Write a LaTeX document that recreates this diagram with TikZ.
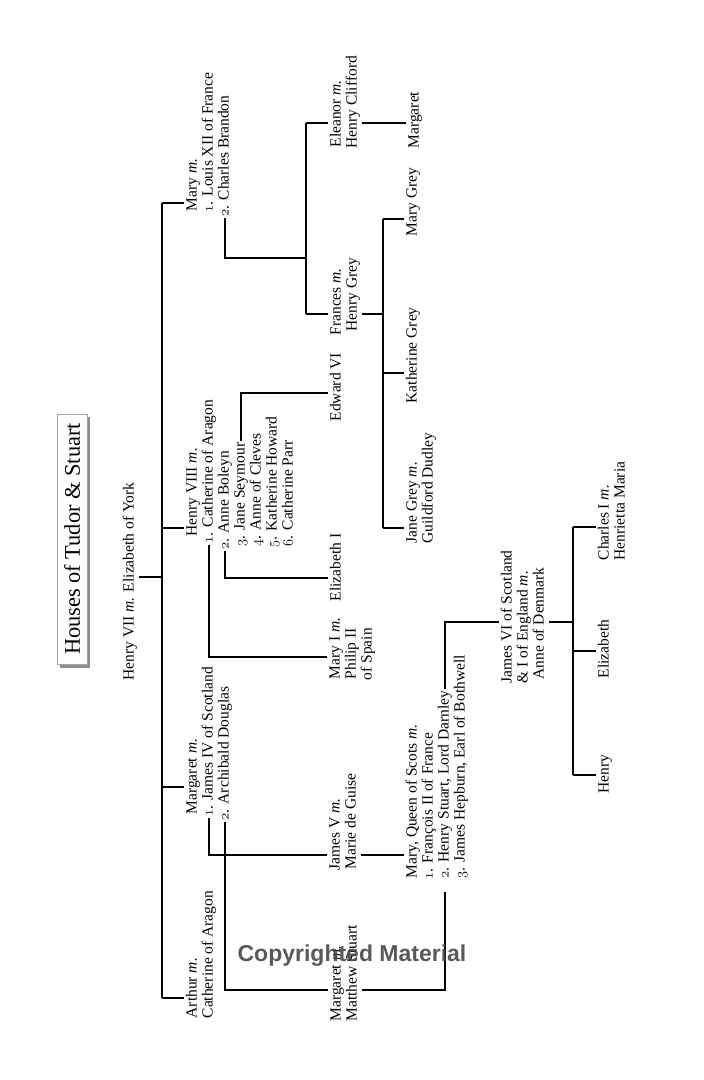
\documentclass[tikz,border=0pt]{standalone}
\usepackage{fontspec}
\usepackage{tikz}
\setmainfont{Liberation Serif}
\newfontfamily\markfont{Liberation Sans}
\newcommand\osnum[1]{{\usefont{OML}{cmm}{m}{it}#1}}
\tikzset{
        person/.style = {rotate = 90, anchor = west, inner sep = 1.5pt, text height = 10.5pt, text depth = 3.5pt, font = \fontsize{15.5}{16}\selectfont},
        branch/.style = {line width = 1.3pt},
}

\begin{document}
\begin{tikzpicture}[x = 1pt, y = -1pt]
        \useasboundingbox (0, 0) rectangle (704, 1080);
        \fill[white] (0, 0) rectangle (704, 1080);

        \fill[black!45] (60, 417) rectangle (90, 668);
        \node[rotate = 90, draw = black!35, fill = white, minimum width = 250pt, minimum height = 30pt,
            font = \fontsize{22.4}{24}\selectfont] (title) at (72, 539) {Houses of Tudor \& Stuart};

        \node[person] (root) at (130, 682) {Henry VII \textit{m.} Elizabeth of York};

        \node[person] (mary) at (193, 213) {Mary \textit{m.}};
        \node[person] (mary1) at (209, 214) {\osnum{1}. Louis XII of France};
        \node[person] (mary2) at (225, 218) {\osnum{2}. Charles Brandon};

        \node[person] (henry) at (193, 538) {Henry VIII \textit{m.}};
        \node[person] (henry1) at (209, 545) {\osnum{1}. Catherine of Aragon};
        \node[person] (henry2) at (225, 551) {\osnum{2}. Anne Boleyn};
        \node[person] (henry3) at (241, 548) {\osnum{3}. Jane Seymour};
        \node[person] (henry4) at (257, 548) {\osnum{4}. Anne of Cleves};
        \node[person] (henry5) at (273, 549) {\osnum{5}. Katherine Howard};
        \node[person] (henry6) at (289, 548) {\osnum{6}. Catherine Parr};

        \node[person] (margaret) at (193, 816) {Margaret \textit{m.}};
        \node[person] (margaret1) at (209, 818) {\osnum{1}. James IV of Scotland};
        \node[person] (margaret2) at (225, 822) {\osnum{2}. Archibald Douglas};

        \node[person] (arthur) at (193, 1020) {Arthur \textit{m.}};
        \node[person] (arthur1) at (209, 1020) {Catherine of Aragon};

        \node[person] (eleanor) at (337, 149) {Eleanor \textit{m.}};
        \node[person] (eleanor1) at (353, 150) {Henry Clifford};
        \node[person] (frances) at (337, 337) {Frances \textit{m.}};
        \node[person] (frances1) at (353, 333) {Henry Grey};
        \node[person] (edward) at (337, 423) {Edward VI};
        \node[person] (elizI) at (337, 603) {Elizabeth I};
        \node[person] (maryI) at (336, 681) {Mary I \textit{m.}};
        \node[person] (maryI1) at (352, 681) {Philip II};
        \node[person] (maryI2) at (368, 682) {of Spain};
        \node[person] (jamesV) at (336, 872) {James V \textit{m.}};
        \node[person] (jamesV1) at (352, 871) {Marie de Guise};
        \node[person] (margD) at (337, 1023) {Margaret \textit{m.}};
        \node[person] (margD1) at (353, 1023) {Matthew Stuart};

        \node[person] (margC) at (415, 150) {Margaret};
        \node[person] (maryG) at (413, 238) {Mary Grey};
        \node[person] (katG) at (413, 405) {Katherine Grey};
        \node[person] (janeG) at (413, 545) {Jane Grey \textit{m.}};
        \node[person] (janeG1) at (429, 545) {Guildford Dudley};
        \node[person] (maryQ) at (413, 880) {Mary, Queen of Scots \textit{m.}};
        \node[person] (maryQ1) at (429, 881) {\osnum{1}. François II of France};
        \node[person] (maryQ2) at (445, 880) {\osnum{2}. Henry Stuart, Lord Darnley};
        \node[person] (maryQ3) at (461, 880) {\osnum{3}. James Hepburn, Earl of Bothwell};

        \node[person] (jamesVI) at (508, 685) {James VI of Scotland};
        \node[person] (jamesVI1) at (524, 685) {\& I of England \textit{m.}};
        \node[person] (jamesVI2) at (540, 681) {Anne of Denmark};

        \node[person] (charles) at (605, 562) {Charles I \textit{m.}};
        \node[person] (charles1) at (621, 562) {Henrietta Maria};
        \node[person] (elizS) at (605, 680) {Elizabeth};
        \node[person] (henryS) at (605, 795) {Henry};

        \coordinate (b0) at (162, 577);
        \coordinate (bMary) at (162, 203);
        \coordinate (bHenry) at (162, 528);
        \coordinate (bMarg) at (162, 787);
        \coordinate (bArthur) at (162, 998);
        \coordinate (cBr) at (306, 258);
        \coordinate (cEl) at (306, 123);
        \coordinate (cFr) at (306, 314);
        \coordinate (dFr) at (383, 314);
        \coordinate (dMG) at (383, 219);
        \coordinate (dKG) at (383, 373);
        \coordinate (dJG) at (383, 528);
        \coordinate (kMaryI) at (210, 657);
        \coordinate (kEliz) at (226, 578);
        \coordinate (kEdw) at (241, 393);
        \coordinate (kJV) at (210, 855);
        \coordinate (kMD) at (226, 990);
        \coordinate (kJ6) at (445, 622);
        \coordinate (fJ6) at (573, 622);
        \coordinate (fCh) at (573, 527);
        \coordinate (fEl) at (573, 651);
        \coordinate (fHe) at (573, 775);

        \draw[branch] (root.south |- b0) -- (b0);
        \draw[branch] (bMary) -- (bArthur);
        \draw[branch] (bMary) -- (bMary -| mary.north);
        \draw[branch] (bHenry) -- (bHenry -| henry.north);
        \draw[branch] (bMarg) -- (bMarg -| margaret.north);
        \draw[branch] (bArthur) -- (bArthur -| arthur.north);

        \draw[branch] (mary2.west) |- (cBr);
        \draw[branch] (cEl) -- (cFr);
        \draw[branch] (cEl) -- (cEl -| eleanor.north);
        \draw[branch] (cFr) -- (cFr -| frances.north);
        \draw[branch] (cEl -| eleanor1.south) -- (cEl -| margC.north);
        \draw[branch] (cFr -| frances1.south) -- (dFr);
        \draw[branch] (dMG) -- (dJG);
        \draw[branch] (dMG) -- (dMG -| maryG.north);
        \draw[branch] (dKG) -- (dKG -| katG.north);
        \draw[branch] (dJG) -- (dJG -| janeG.north);

        \draw[branch] (henry1.west) |- (kMaryI -| maryI.north);
        \draw[branch] (henry2.west) |- (kEliz -| elizI.north);
        \draw[branch] (henry3.east) |- (kEdw -| edward.north);

        \draw[branch] (margaret1.west) |- (kJV -| jamesV.north);
        \draw[branch] (margaret2.west) |- (kMD -| margD.north);
        \draw[branch] (kJV -| jamesV1.south) -- (kJV -| maryQ.north);
        \draw[branch, shorten >= 12pt] (kMD -| margD1.south) -| (maryQ2.west);
        \draw[branch] (maryQ2.east) |- (kJ6 -| jamesVI.north);

        \draw[branch] (kJ6 -| jamesVI2.south) -- (fJ6);
        \draw[branch] (fCh) -- (fHe);
        \draw[branch] (fCh) -- (fCh -| charles.north);
        \draw[branch] (fEl) -- (fEl -| elizS.north);
        \draw[branch] (fHe) -- (fHe -| henryS.north);

        \node[anchor = base, text = black!72, opacity = 0.9, font = \markfont\bfseries\fontsize{23}{23}\selectfont] (mark) at (352, 961) {Copyrighted Material};
\end{tikzpicture}
\end{document}
